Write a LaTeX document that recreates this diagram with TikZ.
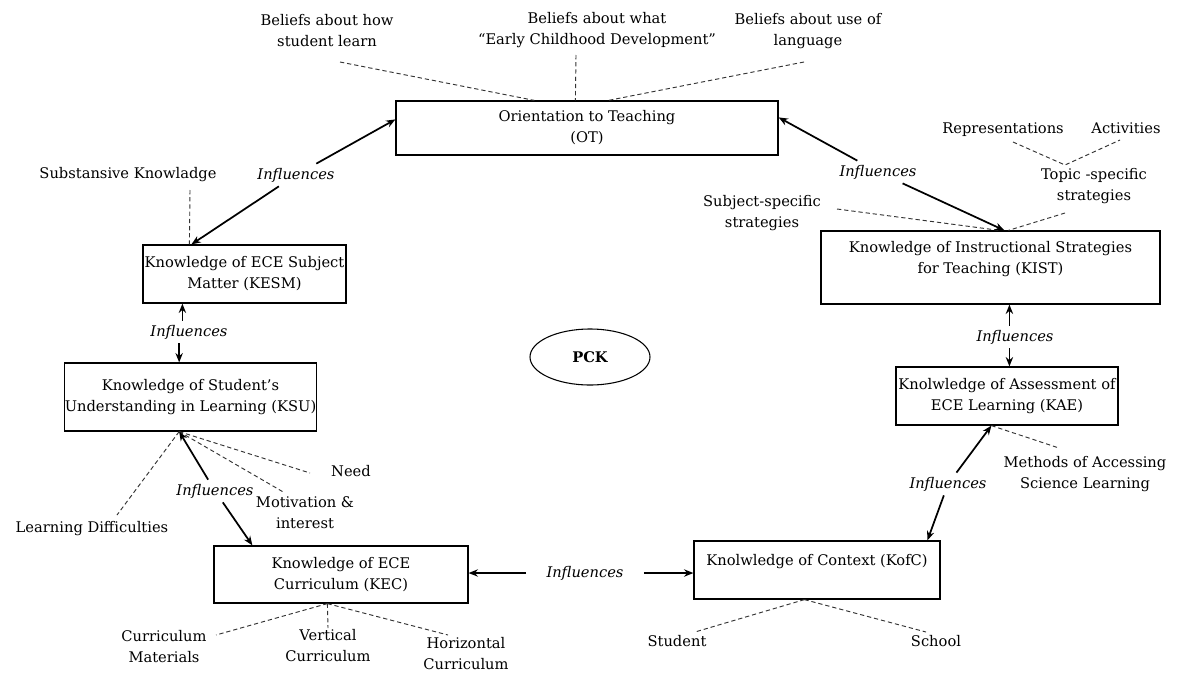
\documentclass[tikz,border=0pt]{standalone}
\usepackage{fontspec}
\setmainfont{DejaVu Serif}
\usetikzlibrary{arrows.meta,calc,shapes.geometric}
\begin{document}
\begin{tikzpicture}[x=0.75pt,y=-0.75pt,
  font=\fontsize{11}{15.75}\selectfont,
  box/.style={draw,line width=0.9pt,inner sep=0pt,align=center},
  lbl/.style={align=center,inner sep=1pt},
  inf/.style={font=\fontsize{11}{15.75}\selectfont\itshape,inner sep=3pt},
  arr/.style={line width=1.3pt,-{Stealth[length=7pt,width=5.5pt]}},
  dsh/.style={dash pattern=on 3.2pt off 2.2pt,line width=0.7pt,draw=black!80}]
\useasboundingbox[fill=white] (0,0) rectangle (1184,675);

% boxes
\node[box,minimum width={382*0.75pt},minimum height={54*0.75pt}] (OT) at (587,128) {Orientation to Teaching\\(OT)};
\node[box,minimum width={203*0.75pt},minimum height={58*0.75pt}] (KESM) at (244.5,274) {Knowledge of ECE Subject\\Matter (KESM)};
\node[box,minimum width={245*0.75pt},minimum height={68*0.75pt}] (KSU) at (190.5,397) {Knowledge of Student’s\\Understanding in Learning (KSU)};
\node[box,minimum width={254*0.75pt},minimum height={57*0.75pt}] (KEC) at (341,574.5) {Knowledge of ECE\\Curriculum (KEC)};
\node[box,minimum width={246*0.75pt},minimum height={58*0.75pt}] (KofC) at (817,570) {Knolwledge of Context (KofC)\\\mbox{}};
\node[box,minimum width={222*0.75pt},minimum height={58*0.75pt}] (KAE) at (1007,396) {Knolwledge of Assessment of\\ECE Learning (KAE)};
\node[box,minimum width={339*0.75pt},minimum height={73*0.75pt}] (KIST) at (990.5,267.5) {Knowledge of Instructional Strategies\\for Teaching (KIST)\\\mbox{}};
\node[draw,ellipse,line width=0.8pt,minimum width={120*0.75pt},minimum height={56*0.75pt},font=\fontsize{11}{15.75}\selectfont\bfseries] (PCK) at (590,357) {PCK};

% labels
\node[lbl] (b1) at (327,31) {Beliefs about how\\student learn};
\node[lbl] (b2) at (597,30) {Beliefs about what\\“Early Childhood Development”};
\node[lbl] (b3) at (808,31) {Beliefs about use of\\language};
\node[lbl] (subk) at (128,175) {Substansive Knowladge};
\node[lbl] (rep) at (1003,130) {Representations};
\node[lbl] (act) at (1126,128) {Activities};
\node[lbl] (topic) at (1094,186) {Topic -specific\\strategies};
\node[lbl] (subj) at (762,213) {Subject-specific\\strategies};
\node[lbl] (need) at (351,471) {Need};
\node[lbl] (motiv) at (305,513) {Motivation \&\\interest};
\node[lbl] (ld) at (92,529) {Learning Difficulties};
\node[lbl] (cm) at (164,647) {Curriculum\\Materials};
\node[lbl] (vc) at (328,646) {Vertical\\Curriculum};
\node[lbl] (hc) at (466,654) {Horizontal\\Curriculum};
\node[lbl] (meth) at (1085,474) {Methods of Accessing\\Science Learning};
\node[lbl] (stu) at (677,641) {Student};
\node[lbl] (sch) at (936,641) {School};

% influences labels
\node[inf] (i1) at (296,175) {Influences};
\node[inf] (i2) at (878,172) {Influences};
\node[inf] (i3) at (189,332) {Influences};
\node[inf] (i4) at (215,491) {Influences};
\node[inf,inner xsep=15pt] (i5) at (585,573) {Influences};
\node[inf] (i6) at (1015,337) {Influences};
\node[inf] (i7) at (948,484) {Influences};

% anchor points on boxes
\coordinate (otL) at ($(OT.north west)+(0,19)$);
\coordinate (otR) at ($(OT.north east)+(0,17)$);
\coordinate (otA) at ($(OT.north west)+(139,0)$);
\coordinate (otB) at ($(OT.north west)+(180,0)$);
\coordinate (otC) at ($(OT.north west)+(213,0)$);
\coordinate (kesmT) at ($(KESM.north west)+(49,0)$);
\coordinate (kesmD) at ($(KESM.north west)+(47,0)$);
\coordinate (kesmB) at ($(KESM.south west)+(40,0)$);
\coordinate (ksuT) at ($(KSU.north west)+(115,0)$);
\coordinate (ksuB) at ($(KSU.south west)+(115,0)$);
\coordinate (kecT) at ($(KEC.north west)+(39,0)$);
\coordinate (kecB) at ($(KEC.south west)+(114,0)$);
\coordinate (kistT) at ($(KIST.north west)+(184,0)$);
\coordinate (kistD1) at ($(KIST.north west)+(179,0)$);
\coordinate (kistD2) at ($(KIST.north west)+(188,0)$);
\coordinate (kistB) at ($(KIST.south west)+(189,0)$);
\coordinate (kaeT) at ($(KAE.north west)+(114,0)$);
\coordinate (kaeB) at ($(KAE.south west)+(96,0)$);
\coordinate (kofcT) at ($(KofC.north west)+(234,0)$);
\coordinate (kofcB) at ($(KofC.south west)+(111,0)$);

% free ends of dashed lines
\coordinate (e1) at (340,62);
\coordinate (e2) at (576,55);
\coordinate (e3) at (804,62);
\coordinate (e4) at (190,190);
\coordinate (e5) at (1013,142);
\coordinate (e6) at (1120,140);
\coordinate (tj) at (1065,165);
\coordinate (e7) at (1065,213);
\coordinate (e8) at (837,209);
\coordinate (e9) at (117,515);
\coordinate (e10) at (310,473);
\coordinate (e11) at (285,493);
\coordinate (e12) at (216,635);
\coordinate (e13) at (328,628);
\coordinate (e14) at (448,635);
\coordinate (e15) at (1059,448);
\coordinate (e16) at (695,632);
\coordinate (e17) at (926,632);

% dashed connectors
\draw[dsh] (e1) -- (otA);
\draw[dsh] (e2) -- (otB);
\draw[dsh] (e3) -- (otC);
\draw[dsh] (e4) -- (kesmD);
\draw[dsh] (e5) -- (tj) -- (e6);
\draw[dsh] (e7) -- (kistD2);
\draw[dsh] (e8) -- (kistD1);
\draw[dsh] (ksuB) -- (e9);
\draw[dsh] (ksuB) -- (e10);
\draw[dsh] (ksuB) -- (e11);
\draw[dsh] (kecB) -- (e12);
\draw[dsh] (kecB) -- (e13);
\draw[dsh] (kecB) -- (e14);
\draw[dsh] (kaeB) -- (e15);
\draw[dsh] (kofcB) -- (e16);
\draw[dsh] (kofcB) -- (e17);

% solid influence arrows
\draw[arr] (i1) -- (otL);
\draw[arr] (i1) -- (kesmT);
\draw[arr] (i2) -- (otR);
\draw[arr] (i2) -- (kistT);
\draw[arr] (i3.north -| kesmB) -- (kesmB);
\draw[arr] (i3.south -| ksuT) -- (ksuT);
\draw[arr] (i4) -- (ksuB);
\draw[arr] (i4) -- (kecT);
\draw[arr] (i5.west) -- (i5.west -| KEC.east);
\draw[arr] (i5.east) -- (i5.east -| KofC.west);
\draw[arr] (i6.north -| kistB) -- (kistB);
\draw[arr] (i6.south -| kaeT) -- (kaeT);
\draw[arr] (i7) -- (kaeB);
\draw[arr] (i7) -- (kofcT);
\end{tikzpicture}
\end{document}
